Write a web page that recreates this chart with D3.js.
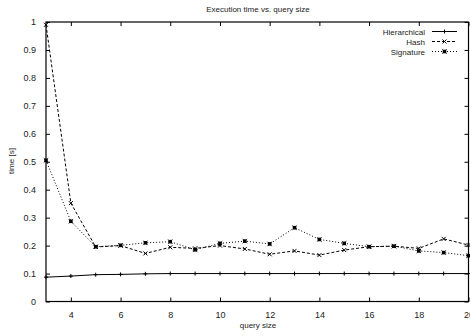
<!DOCTYPE html>
<html>
<head>
<meta charset="utf-8">
<script src="https://cdn.jsdelivr.net/npm/d3@7"></script>
<style>
  body { margin: 0; background: #fff; }
  text { font-family: "Liberation Sans", Arial, sans-serif; fill: #222; }
</style>
</head>
<body>
<svg id="chart" width="470" height="336"></svg>
<script>
// query sizes
var querySize = [3,4,5,6,7,8,9,10,11,12,13,14,15,16,17,18,19,20];
var hierarchical = [0.087,0.091,0.096,0.097,0.099,0.1,0.1,0.1,0.1,0.1,0.1,0.1,0.1,0.1,0.1,0.1,0.1,0.1];
var hash = [0.99,0.352,0.195,0.2,0.172,0.194,0.19,0.2,0.188,0.169,0.181,0.166,0.184,0.196,0.198,0.19,0.224,0.202];
var signature = [0.505,0.287,0.196,0.201,0.21,0.214,0.185,0.208,0.216,0.206,0.264,0.222,0.208,0.196,0.198,0.181,0.175,0.164];
var xTicks = [4,6,8,10,12,14,16,18,20];
var yTicks = [0,0.1,0.2,0.3,0.4,0.5,0.6,0.7,0.8,0.9,1];

var svg = d3.select("#chart");
var plotL = 46, plotR = 468.5, plotT = 22, plotB = 301.5;

var x = d3.scaleLinear().domain([3, 20]).range([plotL, plotR]);
var y = d3.scaleLinear().domain([0, 1]).range([plotB, plotT]);

// frame
svg.append("rect")
  .attr("x", plotL).attr("y", plotT)
  .attr("width", plotR - plotL).attr("height", plotB - plotT)
  .attr("fill", "none").attr("stroke", "#000").attr("stroke-width", 1.2);

// axes with inward ticks (mirrored)
var tickFmt = function(d) { return String(+d.toFixed(1)); };
var gx = svg.append("g").attr("transform", "translate(0," + plotB + ")")
  .call(d3.axisBottom(x).tickValues(xTicks).tickSizeInner(-4).tickSizeOuter(0).tickPadding(10));
var gxt = svg.append("g").attr("transform", "translate(0," + plotT + ")")
  .call(d3.axisTop(x).tickValues(xTicks).tickSizeInner(-4).tickSizeOuter(0).tickFormat(""));
var gy = svg.append("g").attr("transform", "translate(" + plotL + ",0)")
  .call(d3.axisLeft(y).tickValues(yTicks).tickSizeInner(-4).tickSizeOuter(0).tickPadding(10).tickFormat(tickFmt));
var gyr = svg.append("g").attr("transform", "translate(" + plotR + ",0)")
  .call(d3.axisRight(y).tickValues(yTicks).tickSizeInner(-4).tickSizeOuter(0).tickFormat(""));

[gx, gxt, gy, gyr].forEach(function(g) {
  g.select(".domain").remove();
  g.selectAll("line").attr("stroke", "#000");
  g.selectAll("text").style("font-size", "9px").attr("fill", "#333")
    .style("font-family", "'Liberation Sans', Arial, sans-serif");
});

// labels
svg.append("text").attr("x", 258).attr("y", 12).attr("text-anchor", "middle")
  .style("font-size", "8px").text("Execution time vs. query size");
svg.append("text").attr("x", 258).attr("y", 328).attr("text-anchor", "middle")
  .style("font-size", "8px").text("query size");
svg.append("text").attr("transform", "translate(14,161) rotate(-90)").attr("text-anchor", "middle")
  .style("font-size", "8px").text("time [s]");

var series = [
  { name: "Hierarchical", values: hierarchical, dash: null, mark: "plus" },
  { name: "Hash", values: hash, dash: "3,2", mark: "cross" },
  { name: "Signature", values: signature, dash: "1,2", mark: "square" }
];

var line = d3.line().x(function(d) { return x(d[0]); }).y(function(d) { return y(d[1]); });

function drawMark(g, cx, cy, type) {
  if (type === "plus") {
    g.append("path").attr("d", "M" + (cx - 2) + "," + cy + "h4M" + cx + "," + (cy - 2) + "v4")
      .attr("stroke", "#000").attr("stroke-width", 1);
  } else if (type === "cross") {
    g.append("path").attr("d", "M" + (cx - 2) + "," + (cy - 2) + "l4,4M" + (cx - 2) + "," + (cy + 2) + "l4,-4")
      .attr("stroke", "#000").attr("stroke-width", 1);
  } else {
    g.append("rect").attr("x", cx - 1.8).attr("y", cy - 1.8).attr("width", 3.6).attr("height", 3.6)
      .attr("fill", "#000");
    g.append("path").attr("d", "M" + (cx - 2.3) + "," + (cy - 2.3) + "l4.6,4.6M" + (cx - 2.3) + "," + (cy + 2.3) + "l4.6,-4.6")
      .attr("stroke", "#000").attr("stroke-width", 0.7);
  }
}

series.forEach(function(s) {
  var pts = querySize.map(function(q, i) { return [q, s.values[i]]; });
  var g = svg.append("g");
  g.append("path").attr("d", line(pts)).attr("fill", "none")
    .attr("stroke", "#000").attr("stroke-width", 1)
    .attr("stroke-dasharray", s.dash);
  pts.forEach(function(p) { drawMark(g, x(p[0]), y(p[1]), s.mark); });
});

// legend
var legend = svg.append("g");
series.forEach(function(s, i) {
  var ly = 31.5 + i * 10;
  legend.append("text").attr("x", 425).attr("y", ly + 3).attr("text-anchor", "end")
    .style("font-size", "8px").text(s.name);
  legend.append("path").attr("d", "M432," + ly + "H457").attr("stroke", "#000")
    .attr("stroke-width", 1).attr("stroke-dasharray", s.dash);
  drawMark(legend, 444.5, ly, s.mark);
});
</script>
</body>
</html>
